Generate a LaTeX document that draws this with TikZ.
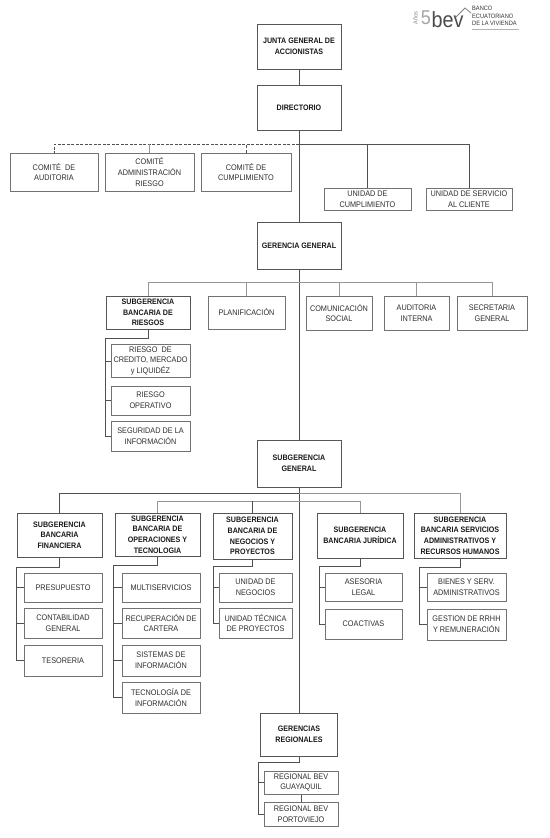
\documentclass[tikz,border=0pt]{standalone}
\usepackage{fontspec}
\setmainfont[FakeStretch=0.9]{Liberation Sans}
\usetikzlibrary{positioning, calc}
\definecolor{boxline}{HTML}{727272}
\definecolor{wireline}{HTML}{505050}
\definecolor{labeltext}{HTML}{2E2E2E}
\tikzset{
  orgbox/.style 2 args={draw=boxline, line width=1pt, fill=white, align=center, inner sep=0pt,
    minimum width=#1pt, minimum height=#2pt, text=labeltext, font=\fontsize{8.1}{10.7}\selectfont},
  bossbox/.style 2 args={orgbox={#1}{#2}, draw=boxline!75!black, text=black!90, font=\fontsize{7.9}{10.7}\selectfont\bfseries},
  wire/.style={draw=wireline, line width=0.8pt},
  softwire/.style={draw=wireline!60, line width=0.8pt},
  dashwire/.style={draw=wireline, line width=0.8pt, dashed, dash pattern=on 3pt off 1.5pt}
}

\begin{document}
\begin{tikzpicture}[x=1pt, y=-1pt]
  \useasboundingbox (0,0) rectangle (549,838);
  % top of the chart
  \node[bossbox={84}{45}] (junta) at (299,46.5) {JUNTA GENERAL DE\\ACCIONISTAS};
  \node[bossbox={84}{45}] (directorio) at (299,107.5) {DIRECTORIO};
  \node[orgbox={88}{38}] (auditoria) at (54,172) {COMITÉ\ \ DE\\AUDITORIA};
  \node[orgbox={89}{38}] (riesgocom) at (149.5,172) {COMITÉ\\ADMINISTRACIÓN\\RIESGO};
  \node[orgbox={90}{38}] (cumplcom) at (246,172) {COMITÉ DE\\CUMPLIMIENTO};
  \node[orgbox={87}{22}] (cumplunit) at (367.5,199) {UNIDAD DE\\CUMPLIMIENTO};
  \node[orgbox={86}{22}] (cliente) at (469,199) {UNIDAD DE SERVICIO\\AL CLIENTE};
  \node[bossbox={84}{47}] (general) at (299,245.5) {GERENCIA GENERAL};
  % second row
  \node[bossbox={84}{33}] (riesgos) at (148,312.5) {SUBGERENCIA\\BANCARIA DE\\RIESGOS};
  \node[orgbox={77}{33}] (planif) at (246.5,312.5) {PLANIFICACIÓN};
  \node[orgbox={66}{34}] (comunic) at (339,313) {COMUNICACIÓN\\SOCIAL};
  \node[orgbox={65}{34}] (interna) at (416.5,313) {AUDITORIA\\INTERNA};
  \node[orgbox={70}{34}] (secret) at (492,313) {SECRETARIA\\GENERAL};
  \node[orgbox={79}{33}] (credito) at (150.5,361) {RIESGO\ \ DE\\CREDITO, MERCADO\\y LIQUIDÉZ};
  \node[orgbox={79}{29}] (operativo) at (150.5,400.5) {RIESGO\\OPERATIVO};
  \node[orgbox={79}{30}] (seguridad) at (150.5,436) {SEGURIDAD DE LA\\INFORMACIÓN};
  \node[bossbox={84}{47}] (subgen) at (299,463.5) {SUBGERENCIA\\GENERAL};
  % subgerencias
  \node[bossbox={85}{44}] (financiera) at (59.5,535) {SUBGERENCIA\\BANCARIA\\FINANCIERA};
  \node[bossbox={85}{43}] (operac) at (157.5,534.5) {SUBGERENCIA\\BANCARIA DE\\OPERACIONES Y\\TECNOLOGIA};
  \node[bossbox={79}{46}] (negocios) at (252.5,536) {SUBGERENCIA\\BANCARIA DE\\NEGOCIOS Y\\PROYECTOS};
  \node[bossbox={86}{45}] (juridica) at (360,535.5) {SUBGERENCIA\\BANCARIA JURÍDICA};
  \node[bossbox={92}{45}] (admin) at (460,535.5) {SUBGERENCIA\\BANCARIA SERVICIOS\\ADMINISTRATIVOS Y\\RECURSOS HUMANOS};
  \node[orgbox={78}{29}] (presup) at (63,587.5) {PRESUPUESTO};
  \node[orgbox={78}{30}] (contab) at (63,623) {CONTABILIDAD\\GENERAL};
  \node[orgbox={78}{31}] (tesor) at (63,660.5) {TESORERIA};
  \node[orgbox={78}{29}] (multi) at (161,587.5) {MULTISERVICIOS};
  \node[orgbox={78}{30}] (recup) at (161,623) {RECUPERACIÓN DE\\CARTERA};
  \node[orgbox={78}{31}] (sistemas) at (161,660.5) {SISTEMAS DE\\INFORMACIÓN};
  \node[orgbox={78}{31}] (tecno) at (161,697.5) {TECNOLOGÍA DE\\INFORMACIÓN};
  \node[orgbox={73}{29}] (uninegoc) at (255.5,587.5) {UNIDAD DE\\NEGOCIOS};
  \node[orgbox={73}{30}] (unitecn) at (255.5,623) {UNIDAD TÉCNICA\\DE PROYECTOS};
  \node[orgbox={77}{28}] (asesoria) at (363.5,587) {ASESORIA\\LEGAL};
  \node[orgbox={77}{30}] (coact) at (363.5,624) {COACTIVAS};
  \node[orgbox={79}{28}] (bienes) at (466.5,587) {BIENES Y SERV.\\ADMINISTRATIVOS};
  \node[orgbox={79}{31}] (rrhh) at (466.5,624.5) {GESTION DE RRHH\\Y REMUNERACIÓN};
  % regionales
  \node[bossbox={77}{43}] (regionales) at (299,734.5) {GERENCIAS\\REGIONALES};
  \node[orgbox={74}{23}] (guayaquil) at (301,782.5) {REGIONAL BEV\\GUAYAQUIL};
  \node[orgbox={74}{24}] (portoviejo) at (301,814) {REGIONAL BEV\\PORTOVIEJO};

  % trunk
  \draw[wire] (junta) -- (directorio);
  \draw[wire] (directorio) -- (general);
  \draw[wire] (general) -- (subgen);
  \draw[wire] (subgen) -- (regionales);
  % branch under directorio
  \coordinate (dirbus) at (299,144);
  \draw[dashwire] (dirbus) -| (auditoria.north);
  \draw[dashwire] (dirbus) -| (cumplcom.north);
  \draw[softwire] (riesgocom.north) -- (riesgocom.north |- dirbus);
  \draw[wire] (dirbus) -| (cumplunit.north);
  \draw[wire] (dirbus) -| (cliente.north);
  % branch under gerencia general
  \coordinate (genbus) at (299,282);
  \draw[softwire] (genbus) -| (riesgos.north);
  \draw[softwire] (genbus) -| (planif.north);
  \draw[softwire] (genbus) -| (comunic.north);
  \draw[softwire] (genbus) -| (interna.north);
  \draw[softwire] (genbus) -| (secret.north);
  % branches under subgerencia general
  \coordinate (subbusa) at (299,493);
  \coordinate (subbusb) at (299,501);
  \draw[wire] (subbusa) -| (financiera.north);
  \draw[softwire] (subbusa) -| (admin.north);
  \draw[softwire] (subbusb) -| (operac.north);
  \draw[wire] (negocios.north) -- (negocios.north |- subbusb);
  \draw[softwire] (subbusb) -| (juridica.north);
  % side rails
  \coordinate (railriesgos) at (105,338);
  \draw[wire] (riesgos.south) |- (railriesgos) |- (seguridad.west);
  \draw[wire] (railriesgos |- credito.west) -- (credito.west);
  \draw[wire] (railriesgos |- operativo.west) -- (operativo.west);
  \coordinate (railfin) at (16,567);
  \draw[wire] (financiera.south) |- (railfin) |- (tesor.west);
  \draw[wire] (railfin |- presup.west) -- (presup.west);
  \draw[wire] (railfin |- contab.west) -- (contab.west);
  \coordinate (railoper) at (113,565);
  \draw[wire] (operac.south) |- (railoper) |- (tecno.west);
  \foreach \kid in {multi,recup,sistemas}
    \draw[wire] (railoper |- \kid.west) -- (\kid.west);
  \coordinate (railneg) at (213,566);
  \draw[wire] (negocios.south) |- (railneg) |- (unitecn.west);
  \draw[wire] (railneg |- uninegoc.west) -- (uninegoc.west);
  \coordinate (railjur) at (319,566);
  \draw[wire] (juridica.south) |- (railjur) |- (coact.west);
  \draw[wire] (railjur |- asesoria.west) -- (asesoria.west);
  \coordinate (railadm) at (419,567);
  \draw[wire] (admin.south) |- (railadm) |- (rrhh.west);
  \draw[wire] (railadm |- bienes.west) -- (bienes.west);
  \coordinate (railreg) at (258,762);
  \draw[wire] (regionales.south) |- (railreg) |- (portoviejo.west);
  \draw[wire] (railreg |- guayaquil.west) -- (guayaquil.west);
  \draw[wire] (guayaquil) -- (portoviejo);

  % logo
  \node[rotate=90, text=gray, font=\fontsize{6}{6}\selectfont] (anios) at (415.5,18) {Años};
  \node[text=gray!70, font=\fontsize{20}{20}\selectfont] (cincuenta) at (426,18) {5};
  \node[text=black!70, font=\fontsize{22}{22}\selectfont] (bevname) at (447.5,20) {bev};
  \node[anchor=west, align=left, inner sep=0pt, text=black!80, font=\fontsize{6.3}{7.6}\selectfont] (banco) at (472,16) {BANCO\\ECUATORIANO\\DE LA VIVIENDA};
  \coordinate (rooflt) at (456,17);
  \coordinate (rooftop) at (465,8);
  \coordinate (roofrt) at (471,13);
  \coordinate (taglt) at (472,29);
  \coordinate (tagrt) at (519,29);
  \draw[draw=gray, line width=0.8pt] (rooflt) -- (rooftop) -- (roofrt);
  \draw[draw=gray!60, line width=1pt] (taglt) -- (tagrt);
\end{tikzpicture}
\end{document}
